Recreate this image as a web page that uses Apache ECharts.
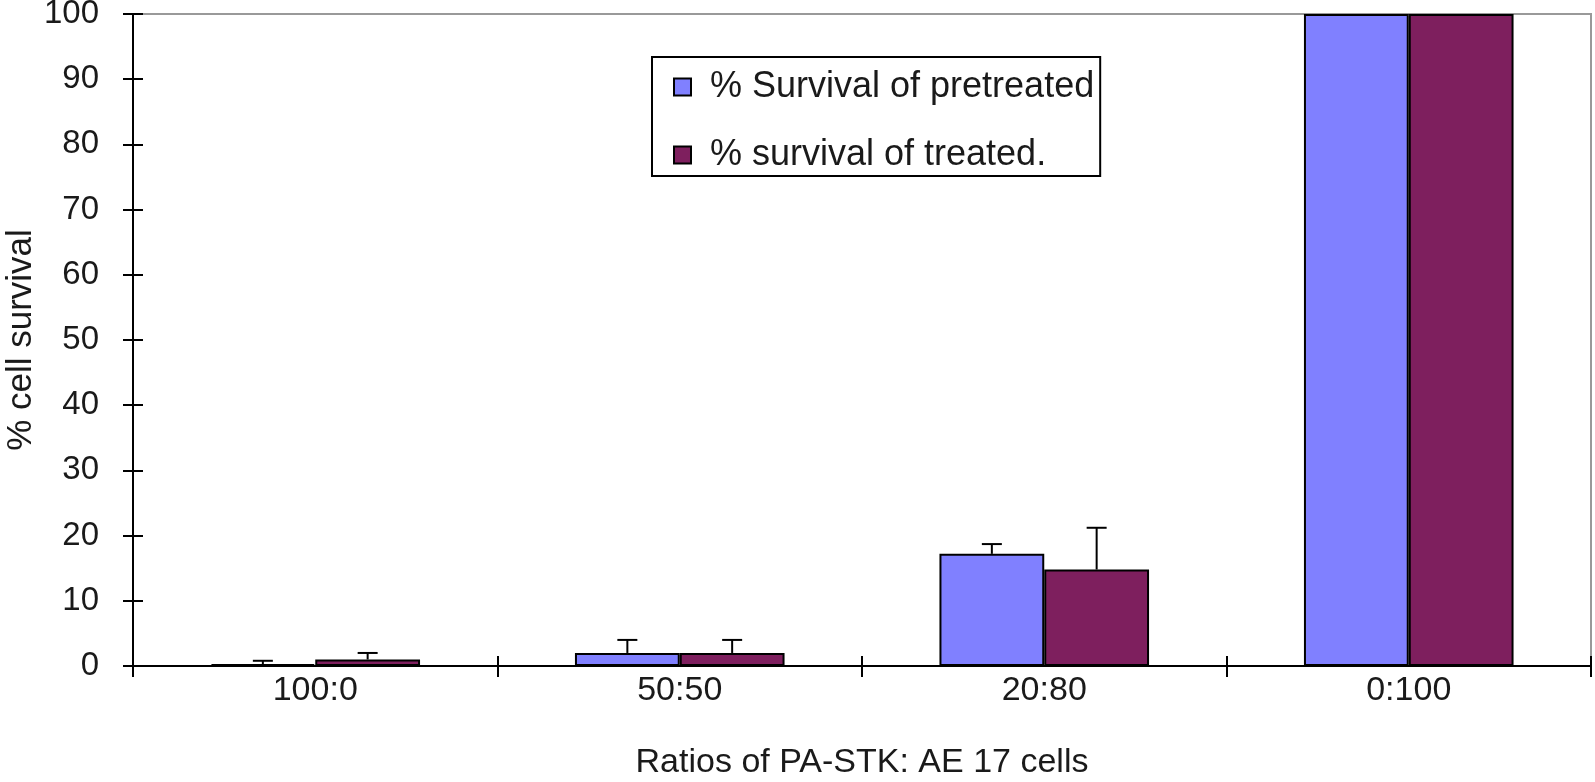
<!DOCTYPE html>
<html><head><meta charset="utf-8">
<script src="https://cdn.jsdelivr.net/npm/echarts@6/dist/echarts.min.js"></script>
<style>html,body{margin:0;padding:0;background:#fff}#c{width:1595px;height:782px}</style>
</head><body><div id="c"></div>
<script>
const categories = ['100:0', '50:50', '20:80', '0:100'];
const seriesNames = ['% Survival of pretreated', '% survival of treated.'];
const pretreated = [0.3, 2, 17.2, 100];
const pretreatedErr = [0.5, 2, 1.5, 0];
const treated = [1, 2, 14.8, 100];
const treatedErr = [1, 2, 6.4, 0];
const yTicks = [0, 10, 20, 30, 40, 50, 60, 70, 80, 90, 100];

const FONT = '"Liberation Sans", Arial, sans-serif';
const colors = ['#8080FF', '#7E1F5E'];
const GAP = 0.425;

function errSeries(vals, errs, idx) {
  return {
    type: 'custom',
    xAxisIndex: 0, yAxisIndex: 0,
    z: 5,
    data: vals.map((v, i) => [i, v, v + errs[i]]),
    renderItem: function (params, api) {
      const band = api.size([1, 0])[0];
      const bw = band * (1 - GAP) / 2;
      const off = (idx === 0 ? -1 : 1) * bw / 2;
      const p0 = api.coord([api.value(0), api.value(1)]);
      const p1 = api.coord([api.value(0), api.value(2)]);
      if (Math.abs(p1[1] - p0[1]) < 0.5) return null;
      const x = p0[0] + off;
      const cap = 10;
      const st = { stroke: '#000', lineWidth: 2 };
      return { type: 'group', children: [
        { type: 'line', shape: { x1: x, y1: p0[1], x2: x, y2: p1[1] }, style: st },
        { type: 'line', shape: { x1: x - cap, y1: p1[1], x2: x + cap, y2: p1[1] }, style: st }
      ]};
    }
  };
}

const chart = echarts.init(document.getElementById('c'), null, { renderer: 'canvas' });
chart.setOption({
  animation: false,
  backgroundColor: '#fff',
  textStyle: { fontFamily: FONT },
  grid: { left: 133, right: 4, top: 14, bottom: 116, outerBoundsMode: 'none', containLabel: false,
    show: true, borderColor: '#999', borderWidth: 2, backgroundColor: 'transparent' },
  legend: {
    orient: 'vertical',
    left: 652, top: 57,
    padding: [12, 6, 3, 21],
    borderColor: '#000', borderWidth: 2,
    itemWidth: 17, itemHeight: 17,
    itemGap: 32,
    icon: 'rect',
    itemStyle: { borderColor: '#000', borderWidth: 2 },
    textStyle: { fontFamily: FONT, fontSize: 36, color: '#1a1a1a', lineHeight: 36, padding: [0, 0, 0, 14] },
    data: seriesNames
  },
  xAxis: [{
    type: 'category', data: categories,
    axisLine: { lineStyle: { color: '#000', width: 2 } },
    axisTick: { show: true, length: 11, lineStyle: { color: '#000', width: 2 } },
    axisLabel: { fontFamily: FONT, fontSize: 34, color: '#1a1a1a', margin: 8 },
    name: 'Ratios of PA-STK: AE 17 cells',
    nameLocation: 'middle', nameGap: 80, nameMoveOverlap: false,
    nameTextStyle: { fontFamily: FONT, fontSize: 34, color: '#1a1a1a' }
  }, {
    type: 'category', data: categories, position: 'bottom',
    axisLine: { show: false },
    axisTick: { show: true, inside: true, length: 10, lineStyle: { color: '#000', width: 2 } },
    axisLabel: { show: false }
  }],
  yAxis: [{
    type: 'value', min: 0, max: 100, interval: 10,
    axisLine: { show: true, lineStyle: { color: '#000', width: 2 } },
    axisTick: { show: true, length: 10, lineStyle: { color: '#000', width: 2 } },
    splitLine: { show: false },
    axisLabel: { fontFamily: FONT, fontSize: 33, color: '#1a1a1a', margin: 34,
      formatter: v => yTicks.includes(v) ? String(v) : '' },
    name: '% cell survival',
    nameLocation: 'middle', nameGap: 94, nameRotate: 90, nameMoveOverlap: false,
    nameTextStyle: { fontFamily: FONT, fontSize: 35, color: '#1a1a1a' }
  }, {
    type: 'value', min: 0, max: 100, interval: 10, position: 'left',
    axisLine: { show: false },
    axisTick: { show: true, inside: true, length: 10, lineStyle: { color: '#000', width: 2 } },
    splitLine: { show: false },
    axisLabel: { show: false }
  }],
  series: [
    { name: seriesNames[0], type: 'bar', data: pretreated, barGap: '0%', barCategoryGap: (GAP * 100) + '%',
      itemStyle: { color: colors[0], borderColor: '#000', borderWidth: 2 } },
    { name: seriesNames[1], type: 'bar', data: treated, barGap: '0%', barCategoryGap: (GAP * 100) + '%',
      itemStyle: { color: colors[1], borderColor: '#000', borderWidth: 2 } },
    errSeries(pretreated, pretreatedErr, 0),
    errSeries(treated, treatedErr, 1)
  ]
});
</script></body></html>
